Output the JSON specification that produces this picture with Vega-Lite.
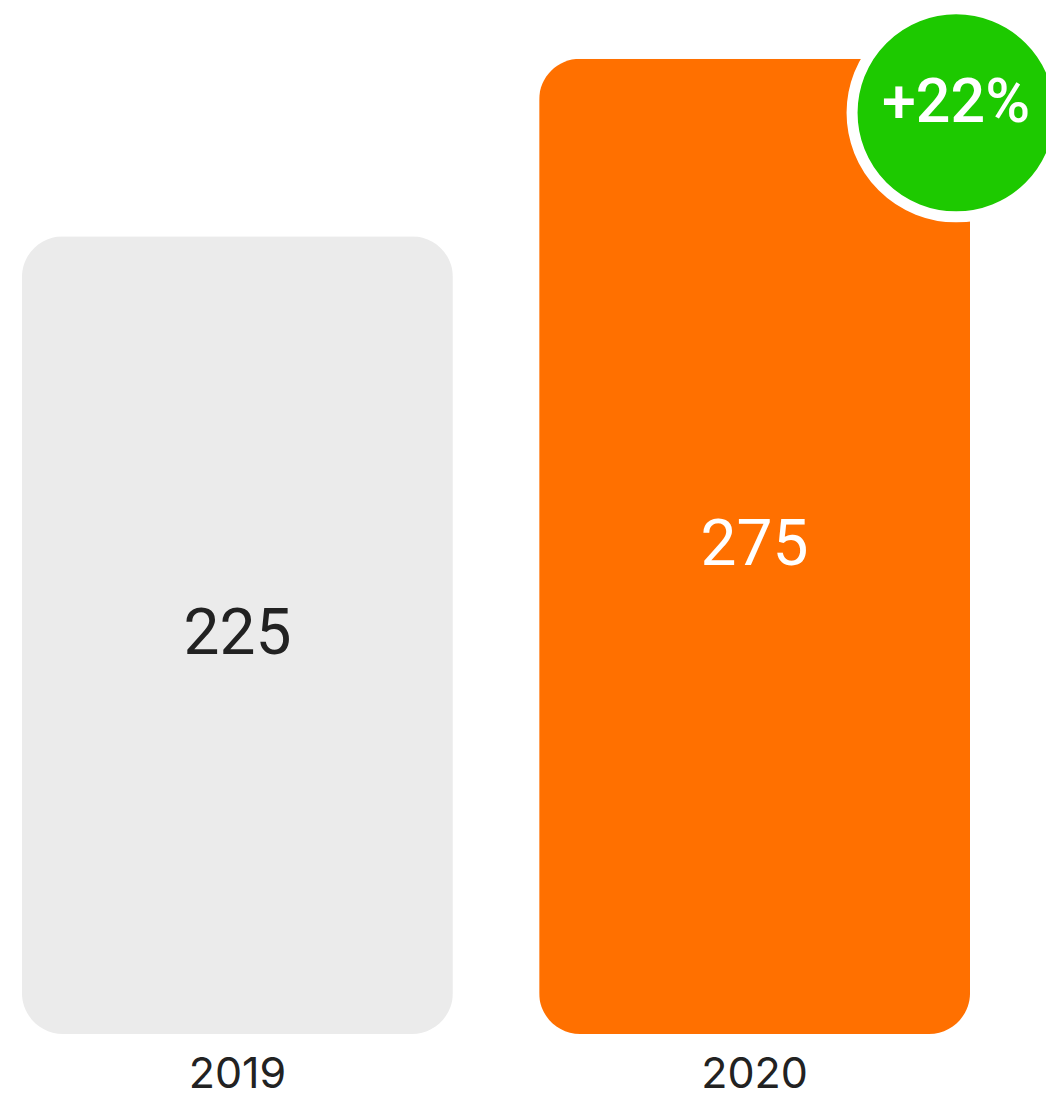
{
  "$schema": "https://vega.github.io/schema/vega-lite/v6.json",
  "autosize": "none",
  "width": 992,
  "height": 1034,
  "padding": {"left": 0, "top": 0, "right": 54, "bottom": 65},
  "background": "white",
  "config": {"view": {"stroke": null}, "font": "Inter"},
  "data": {"values": [
    {"year": "2019", "value": 225},
    {"year": "2020", "value": 275}
  ]},
  "encoding": {
    "x": {
      "field": "year", "type": "ordinal",
      "scale": {"paddingInner": 0.1668, "paddingOuter": 0.0425},
      "axis": {"title": null, "domain": false, "ticks": false, "tickSize": 0, "labelAngle": 0, "labelFontSize": 43, "labelFont": "Inter", "labelColor": "#222222", "labelPadding": 19, "grid": false}
    }
  },
  "layer": [
    {
      "mark": {"type": "bar", "cornerRadius": 41},
      "encoding": {
        "y": {"field": "value", "type": "quantitative", "scale": {"domain": [0, 291.6], "nice": false, "zero": true}, "axis": null},
        "color": {"condition": {"test": "datum.year == '2020'", "value": "#FF7000"}, "value": "#EBEBEB"}
      }
    },
    {
      "mark": {"type": "text", "fontSize": 64, "font": "Roboto", "fontWeight": 400, "baseline": "middle", "align": "center"},
      "encoding": {
        "y": {"field": "value", "type": "quantitative", "stack": "zero", "bandPosition": 0.5},
        "text": {"field": "value", "type": "quantitative"},
        "color": {"condition": {"test": "datum.year == '2020'", "value": "#FFFFFF"}, "value": "#222222"}
      }
    },
    {
      "data": {"values": [{"year": "2020", "value": 275, "label": "+22%"}]},
      "mark": {"type": "point", "shape": "circle", "filled": true, "size": 43264, "color": "#1DC900", "stroke": "#FFFFFF", "strokeWidth": 11, "opacity": 1, "yOffset": 54},
      "encoding": {
        "x": {"field": "year", "type": "ordinal", "bandPosition": 0.9676},
        "y": {"field": "value", "type": "quantitative"}
      }
    },
    {
      "data": {"values": [{"year": "2020", "value": 275, "label": "+22%"}]},
      "mark": {"type": "text", "fontSize": 61, "font": "Roboto", "fontWeight": 500, "color": "#FFFFFF", "baseline": "middle", "align": "center", "yOffset": 45},
      "encoding": {
        "x": {"field": "year", "type": "ordinal", "bandPosition": 0.9676},
        "y": {"field": "value", "type": "quantitative"},
        "text": {"field": "label", "type": "nominal"}
      }
    }
  ]
}
